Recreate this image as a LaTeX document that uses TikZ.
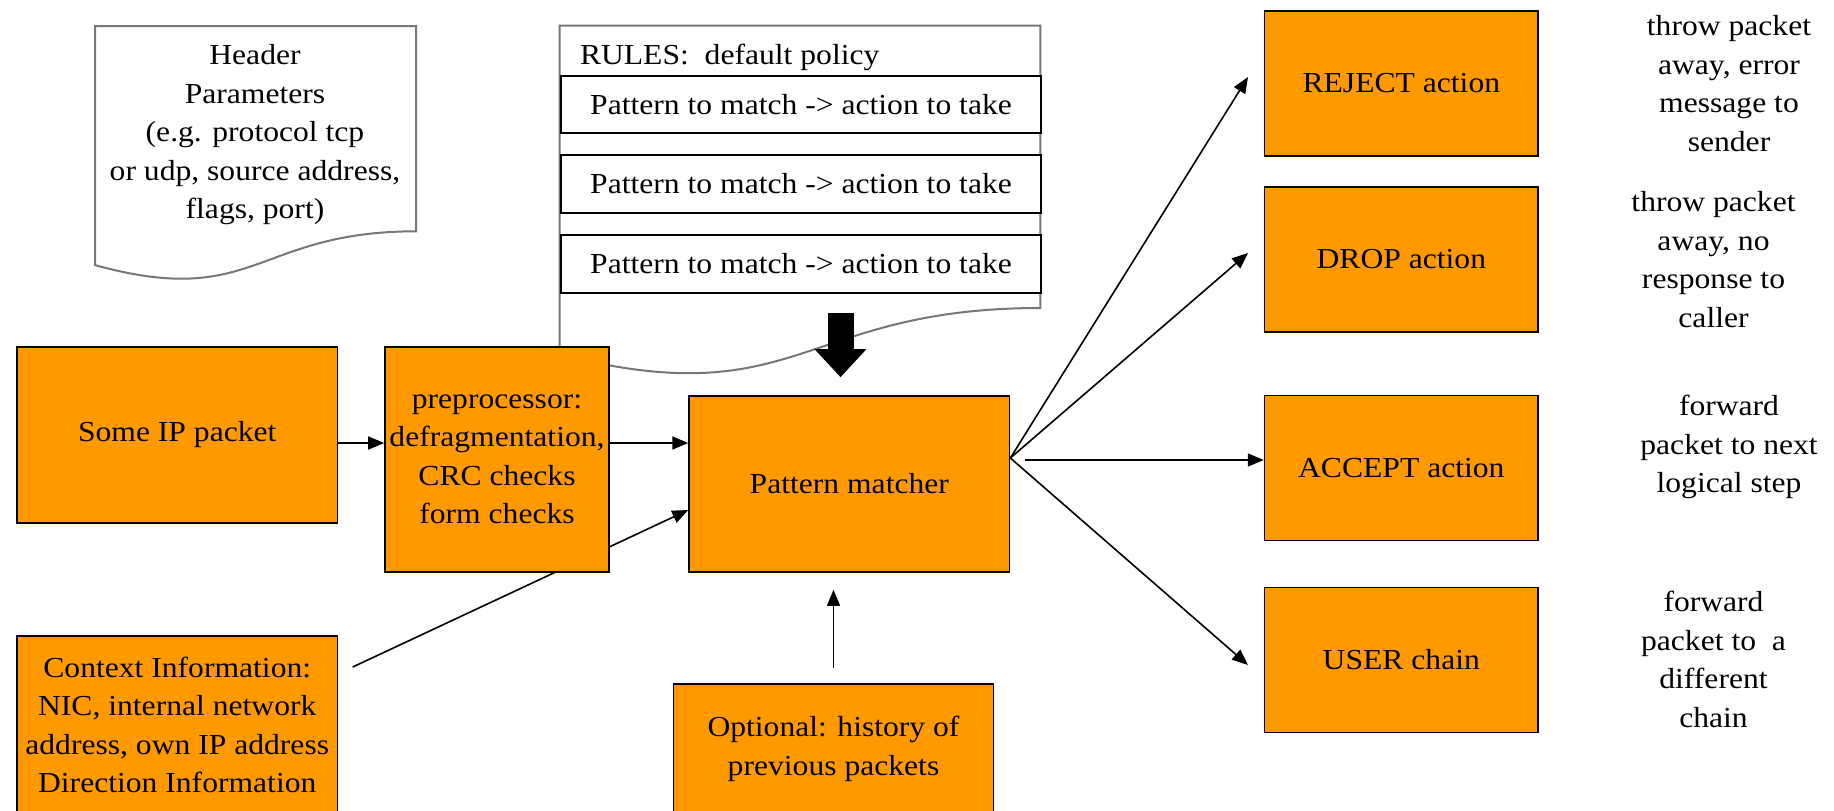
\documentclass[tikz,border=0pt]{standalone}
\usepackage{fontspec}
\setmainfont{Liberation Serif}[FakeStretch=1.09]
\usetikzlibrary{arrows.meta,calc}
\definecolor{boxorange}{RGB}{255,153,0}
\definecolor{docgray}{RGB}{118,118,118}
\pgfdeclarelayer{background}
\pgfsetlayers{background,main}
\begin{document}
\begin{tikzpicture}[x=0.5pt,y=-0.5pt,
  every node/.style={font=\fontsize{14.5}{19.25}\selectfont, inner sep=0pt, align=center},
  obox/.style={draw=black, line width=0.8pt, fill=boxorange},
  bigbox/.style={obox, minimum width=160.25pt, minimum height=88pt},
  actbox/.style={obox, minimum width=136.7pt, minimum height=72.4pt},
  rulebox/.style={draw=black, line width=0.8pt, fill=white, minimum width=240pt, minimum height=28.75pt},
  docshape/.style={draw=docgray, line width=1pt, fill=white},
  conn/.style={draw=black, line width=0.8pt, -{Triangle[length=8pt,width=6.5pt]}},
  bigarrow/.style={draw=black, line width=13pt, -{Triangle[length=14pt,width=25pt]}},
]
\clip (0,0) rectangle (1834,810);
\useasboundingbox (0,0) rectangle (1834,810);

% header parameter document
\draw[docshape] (95,26) -- (416,26) -- (416,231.3)
  .. controls (255.5,231.3) and (255.5,309.4) .. (95,265.1) -- cycle;
\node (hdr) at (255,135) {Header\\Parameters\\(e.g. protocol tcp\\or udp, source address,\\flags, port)};

% rule list document
\draw[docshape] (559.6,25.7) -- (1040.4,25.7) -- (1040.4,308)
  .. controls (800,308) and (800,415.4) .. (559.6,354.5) -- cycle;
\node[anchor=west] (rules) at (579.6,57) {RULES:\ \ default policy};
\node[rulebox] (r1) at (801,104.5) {Pattern to match -> action to take};
\node[rulebox] (r2) at (801,184) {Pattern to match -> action to take};
\node[rulebox] (r3) at (801,264) {Pattern to match -> action to take};

% processing boxes
\node[bigbox] (ip) at (177.25,435) {Some IP packet};
\node[obox, minimum width=112pt, minimum height=112.5pt] (pre) at (497,459.5)
  {preprocessor:\\defragmentation,\\CRC checks\\form checks};
\node[bigbox] (pm) at (849.3,484) {Pattern matcher};
\node[obox, minimum width=160.25pt, minimum height=89pt] (ctx) at (177.25,725)
  {Context Information:\\NIC, internal network\\address, own IP address\\Direction Information};
\node[obox, minimum width=160pt, minimum height=65pt] (hist) at (833.5,749)
  {Optional: history of\\previous packets};

% action boxes
\node[actbox] (rej) at (1401.3,83.4) {REJECT action};
\node[actbox] (drop) at (1401.3,259.5) {DROP action};
\node[actbox] (acc) at (1401.3,467.9) {ACCEPT action};
\node[actbox] (user) at (1401.3,660) {USER chain};

% descriptions of the actions
\node (drej) at (1729,83.5) {throw packet\\away, error\\message to\\sender};
\node (ddrop) at (1713.5,259.5) {throw packet\\away, no\\response to\\caller};
\node (dacc) at (1729,447) {forward\\packet to next\\logical step};
\node (duser) at (1713.5,659.5) {forward\\packet to\ \ a\\different\\chain};

% rule set feeding the matcher
\coordinate (rulesout) at (840.5,313);
\draw[bigarrow, shorten >=9pt] (rulesout) -- (rulesout |- pm.north);

% inputs
\coordinate (a1) at ([yshift=-4pt]ip.east);
\draw[conn] (a1) -- (a1 -| pre.west);
\coordinate (a2) at ([yshift=8.25pt]pre.east);
\draw[conn] (a2) -- (a2 -| pm.west);
\coordinate (ctxout) at (352.7,667);
\begin{pgfonlayer}{background}
\draw[conn] (ctxout) -- ([yshift=-13pt]pm.west);
\end{pgfonlayer}
\draw[conn, shorten <=7.5pt, shorten >=8.5pt] (hist.north) -- (hist.north |- pm.south);

% outputs
\coordinate (fan) at ([yshift=13pt]pm.east);
\coordinate (rejin) at (1248,77);
\coordinate (dropin) at (1248,253);
\coordinate (accout) at (1025,460);
\coordinate (userin) at (1248,665);
\draw[conn] (fan) -- (rejin);
\draw[conn] (fan) -- (dropin);
\draw[conn] (accout) -- (accout -| acc.west);
\draw[conn] (fan) -- (userin);
\end{tikzpicture}
\end{document}
